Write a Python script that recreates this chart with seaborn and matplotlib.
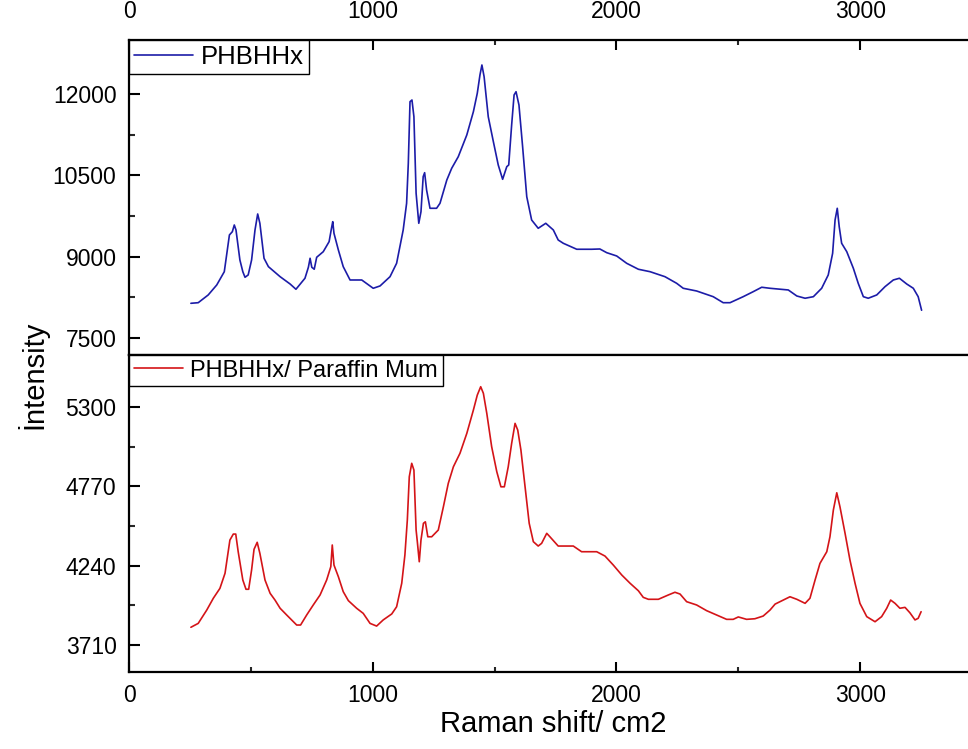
import matplotlib
matplotlib.use("Agg")
import matplotlib.pyplot as plt
from matplotlib.ticker import FixedLocator
import seaborn as sns
import pandas as pd

# ---- data ----
x_phb = [254, 284, 325, 360, 391, 412, 424, 432, 439, 455, 467, 476, 489, 503, 517, 528, 537,
         554, 572, 620, 661, 685, 722, 736, 743, 750, 760, 770, 797, 821, 832, 836, 841, 859,
         879, 907, 955, 1002, 1030, 1071, 1098, 1125, 1139, 1146, 1153, 1161, 1169, 1178, 1189,
         1198, 1207, 1213, 1221, 1235, 1262, 1276, 1304, 1324, 1351, 1386, 1413, 1429, 1440,
         1448, 1457, 1474, 1495, 1515, 1533, 1550, 1558, 1570, 1580, 1588, 1600, 1615, 1632,
         1652, 1679, 1710, 1741, 1761, 1782, 1837, 1898, 1932, 1960, 2001, 2042, 2090, 2138,
         2199, 2247, 2274, 2329, 2397, 2438, 2466, 2520, 2561, 2596, 2630, 2705, 2740, 2774,
         2808, 2842, 2869, 2887, 2897, 2906, 2914, 2924, 2945, 2972, 2992, 3013, 3033, 3068,
         3102, 3136, 3161, 3191, 3218, 3238, 3252]
y_phb = [8138, 8149, 8292, 8476, 8721, 9399, 9459, 9583, 9491, 8937, 8721, 8618, 8661, 8937,
         9491, 9786, 9614, 8969, 8814, 8629, 8494, 8397, 8600, 8803, 8969, 8803, 8766, 8987,
         9090, 9275, 9552, 9644, 9430, 9122, 8814, 8568, 8568, 8415, 8458, 8629, 8876, 9491,
         9983, 10721, 11858, 11889, 11581, 10168, 9614, 9828, 10474, 10548, 10229, 9891, 9891,
         9983, 10413, 10629, 10843, 11244, 11673, 12013, 12351, 12535, 12319, 11581, 11120,
         10690, 10426, 10659, 10690, 11428, 11982, 12042, 11797, 11028, 10105, 9675, 9522,
         9614, 9491, 9306, 9245, 9135, 9135, 9140, 9072, 9011, 8876, 8766, 8721, 8629, 8507,
         8415, 8365, 8260, 8149, 8149, 8260, 8352, 8434, 8415, 8384, 8273, 8231, 8260, 8415,
         8661, 9061, 9675, 9891, 9552, 9245, 9090, 8784, 8507, 8260, 8231, 8292, 8445, 8568,
         8600, 8494, 8415, 8260, 8010]

x_par = [254, 284, 319, 346, 373, 394, 414, 428, 438, 448, 467, 480, 491, 503, 513, 526, 537,
         558, 579, 599, 620, 647, 688, 704, 729, 756, 784, 811, 828, 834, 841, 859, 879, 900,
         934, 961, 989, 1016, 1043, 1078, 1098, 1119, 1132, 1142, 1150, 1160, 1169, 1178, 1183,
         1191, 1198, 1208, 1216, 1226, 1242, 1269, 1290, 1310, 1331, 1358, 1386, 1413, 1429,
         1443, 1454, 1468, 1488, 1509, 1526, 1540, 1556, 1570, 1584, 1595, 1608, 1625, 1642,
         1659, 1679, 1693, 1714, 1727, 1761, 1823, 1857, 1919, 1953, 1987, 2022, 2056, 2090,
         2110, 2131, 2172, 2213, 2240, 2261, 2288, 2329, 2370, 2411, 2452, 2479, 2500, 2534,
         2568, 2602, 2630, 2651, 2685, 2712, 2740, 2774, 2794, 2815, 2835, 2863, 2876, 2890,
         2904, 2917, 2938, 2958, 2979, 2999, 3027, 3061, 3088, 3109, 3125, 3143, 3163, 3184,
         3204, 3225, 3238, 3250]
y_par = [3828, 3854, 3943, 4022, 4088, 4189, 4411, 4451, 4451, 4333, 4144, 4082, 4082, 4211,
         4349, 4396, 4322, 4144, 4055, 4010, 3955, 3910, 3843, 3843, 3910, 3977, 4044, 4144,
         4233, 4378, 4244, 4166, 4066, 4006, 3955, 3921, 3854, 3836, 3877, 3917, 3965, 4122,
         4311, 4545, 4834, 4924, 4879, 4478, 4400, 4266, 4411, 4523, 4533, 4433, 4433, 4478,
         4634, 4790, 4901, 4991, 5124, 5280, 5380, 5436, 5392, 5258, 5035, 4868, 4767, 4767,
         4901, 5057, 5191, 5146, 5013, 4767, 4523, 4400, 4371, 4389, 4456, 4433, 4371, 4371,
         4333, 4333, 4304, 4244, 4177, 4122, 4072, 4028, 4015, 4015, 4044, 4062, 4050, 3999,
         3977, 3939, 3910, 3881, 3881, 3897, 3881, 3885, 3903, 3943, 3983, 4010, 4032, 4015,
         3988, 4022, 4144, 4255, 4333, 4433, 4612, 4727, 4634, 4456, 4278, 4122, 3988, 3899,
         3865, 3899, 3955, 4010, 3988, 3955, 3961, 3925, 3877, 3888, 3932]

labels = ["PHBHHx", "PHBHHx/ Paraffin Mum"]
x_ticks = [0, 1000, 2000, 3000]
x_minor = [500, 1500, 2500]
top_yticks = [7500, 9000, 10500, 12000]
top_yminor = [8250, 9750, 11250, 12750]
bot_yticks = [3710, 4240, 4770, 5300]
bot_yminor = [3975, 4505, 5035, 5565]

sns.set_theme(style="white")
plt.rcParams["font.family"] = ["Liberation Sans", "DejaVu Sans"]
plt.rcParams["text.color"] = "black"

fig = plt.figure(figsize=(9.68, 7.49), dpi=100)
ax1 = fig.add_axes([129 / 968, 1 - 355 / 749, 1 - 129 / 968, (355 - 40) / 749])
ax2 = fig.add_axes([129 / 968, 1 - 672 / 749, 1 - 129 / 968, (672 - 355) / 749])

df1 = pd.DataFrame({"x": x_phb, "y": y_phb})
df2 = pd.DataFrame({"x": x_par, "y": y_par})
sns.lineplot(data=df1, x="x", y="y", ax=ax1, color="#1c1ca8", lw=1.2, sort=False,
             estimator=None, label=labels[0])
sns.lineplot(data=df2, x="x", y="y", ax=ax2, color="#d41418", lw=1.2, sort=False,
             estimator=None, label=labels[1])

xmax = 839 * 4.103
for ax in (ax1, ax2):
    ax.set_xlim(0, xmax)
    ax.set_xlabel("")
    ax.set_ylabel("")
    ax.spines["right"].set_visible(False)
    for s in ("left", "top", "bottom"):
        ax.spines[s].set_color("black")
        ax.spines[s].set_linewidth(1.6)
    ax.xaxis.set_major_locator(FixedLocator(x_ticks))
    ax.xaxis.set_minor_locator(FixedLocator(x_minor))

ax1.set_ylim(7184, 12996)
ax2.set_ylim(3529, 5648)
ax1.yaxis.set_major_locator(FixedLocator(top_yticks))
ax1.yaxis.set_minor_locator(FixedLocator(top_yminor))
ax2.yaxis.set_major_locator(FixedLocator(bot_yticks))
ax2.yaxis.set_minor_locator(FixedLocator(bot_yminor))

# top panel: x ticks/labels on top
ax1.tick_params(axis="x", which="both", direction="in", bottom=False, top=True,
                labelbottom=False, labeltop=True)
ax1.tick_params(axis="x", which="major", length=7.5, width=1.5, labelsize=16.5, pad=12)
ax1.tick_params(axis="x", which="minor", length=3.8, width=1.5)
# bottom panel: x ticks/labels on bottom
ax2.tick_params(axis="x", which="both", direction="in", bottom=True, top=False,
                labelbottom=True, labeltop=False)
ax2.tick_params(axis="x", which="major", length=7.5, width=1.5, labelsize=16.5, pad=9)
ax2.tick_params(axis="x", which="minor", length=3.8, width=1.5)
for ax in (ax1, ax2):
    ax.tick_params(axis="y", which="both", direction="in", left=True, right=False)
    ax.tick_params(axis="y", which="major", length=8, width=1.5, labelsize=16.5, pad=9)
    ax.tick_params(axis="y", which="minor", length=4, width=1.5)
    ax.tick_params(colors="black")

for ax, fs, hl in ((ax1, 18.5, 2.3), (ax2, 17, 2.1)):
    leg = ax.legend(loc="upper left", borderaxespad=0, fancybox=False, frameon=True,
                    edgecolor="black", framealpha=1, fontsize=fs, handlelength=hl,
                    handletextpad=0.3, borderpad=0.2, labelcolor="black")
    leg.get_frame().set_linewidth(1.0)
    leg.set_zorder(10)

fig.text(553 / 968, 1 - 724 / 749, "Raman shift/ cm2", ha="center", va="center",
         fontsize=21, color="black")
fig.text(32 / 968, 1 - 375 / 749, "İntensity", ha="center", va="center",
         rotation=90, fontsize=21, color="black")

fig.savefig("out.png", dpi=100, facecolor="white")
